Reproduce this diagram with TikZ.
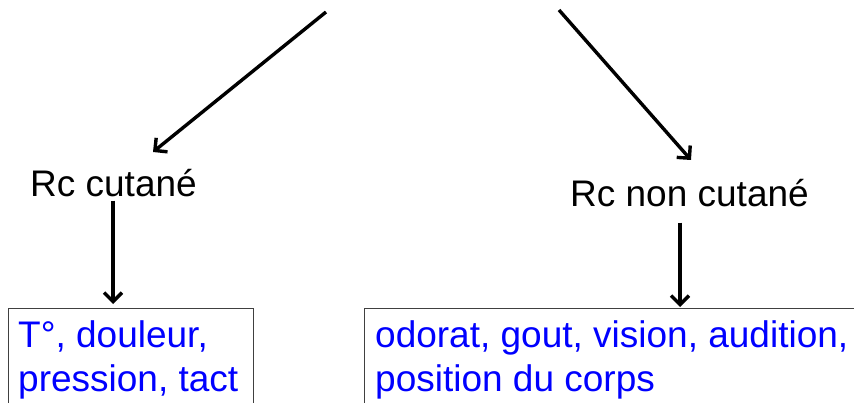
\documentclass[tikz,border=0pt]{standalone}
\usepackage{fontspec}
\setmainfont{Liberation Sans}
\usetikzlibrary{arrows.meta}
\definecolor{textblue}{RGB}{0,0,255}
\begin{document}
\begin{tikzpicture}[x=1pt,y=1pt,
  lbl/.style={font=\fontsize{37}{44}\selectfont, inner sep=0pt, anchor=base west},
  bluetxt/.style={lbl, text=textblue, align=left},
  framebox/.style={draw=black!75, line width=1.2pt, anchor=north west, inner sep=0pt},
  arr/.style={line width=3.4pt, -{Straight Barb[length=9pt,width=18pt,line width=3.4pt]}}
]
\useasboundingbox (0,0) rectangle (854,402);
\clip (0,0) rectangle (854,402);

% receptor categories
\node[lbl] (rc1) at (30,205) {Rc cutané};
\node[lbl] (rc2) at (570,195) {Rc non cutané};

% boxes listing the senses (run past the lower edge)
\node[framebox, minimum width=245, minimum height=130] (b1) at (8,94) {};
\node[framebox, minimum width=520, minimum height=130] (b2) at (364,94) {};
\node[bluetxt] (l1) at (18,11) {T°, douleur,\\pression, tact};
\node[bluetxt] (l2) at (375,11) {odorat, gout, vision, audition,\\position du corps};

% branching arrows from above
\coordinate (s1) at (326,390);
\coordinate (t1) at (153,250);
\coordinate (s2) at (559,392);
\coordinate (t2) at (691,242);
\draw[arr] (s1) -- (t1);
\draw[arr] (s2) -- (t2);

% arrows down to the boxes
\coordinate (v1) at (113,0);
\coordinate (v2) at (680,0);
\draw[arr] ([yshift=-3pt]rc1.south -| v1) -- ([yshift=4pt]b1.north -| v1);
\draw[arr] ([yshift=-15pt]rc2.south -| v2) -- ([yshift=1pt]b2.north -| v2);
\end{tikzpicture}
\end{document}
